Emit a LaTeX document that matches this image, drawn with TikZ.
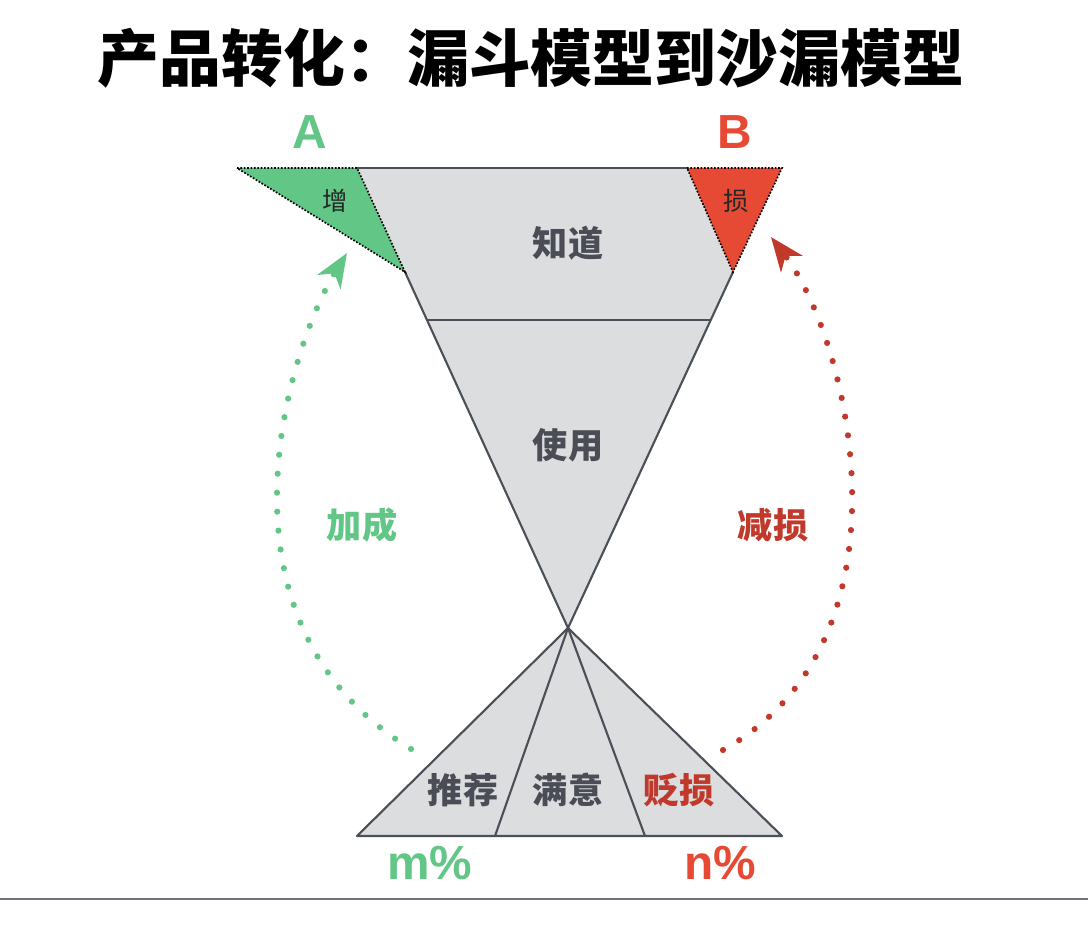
\documentclass[tikz,border=0pt]{standalone}
\usepackage{fontspec}
\setmainfont{Noto Sans CJK SC}
\newfontfamily\titlefont{Noto Sans CJK SC Black}
\newfontfamily\latinfont{Liberation Sans}
\usetikzlibrary{positioning, arrows.meta}

\definecolor{gainGreen}{HTML}{62C686}
\definecolor{lossRed}{HTML}{E64A35}
\definecolor{darkRed}{HTML}{C0392B}
\definecolor{funnelGray}{HTML}{DCDDDF}
\definecolor{edgeGray}{HTML}{4B4F58}
\definecolor{textGray}{HTML}{4A4D55}

\begin{document}
\begin{tikzpicture}[
    x=0.025cm, y=-0.025cm,
    edge/.style={draw=edgeGray, line width=1.5pt, line join=round},
    dotborder/.style={draw=black, line width=1.2pt, dash pattern=on 1.2pt off 1.2pt},
    stage/.style={font=\fontsize{25}{25}\selectfont\bfseries, text=textGray, inner sep=0pt},
    small/.style={font=\fontsize{18}{18}\selectfont, text=black!85, inner sep=0pt},
    letter/.style={font=\latinfont\fontsize{34}{34}\selectfont\bfseries, inner sep=0pt},
    flow/.style={line width=4.4pt, line cap=round, dash pattern=on 0pt off 13.5pt,
        -{Stealth[length=24pt, width=19pt, inset=7pt]}}
]
    \useasboundingbox (0,0) rectangle (1088,932);

    % corner points
    \coordinate (ta) at (237,168);
    \coordinate (fl) at (357,168);
    \coordinate (bl) at (687,168);
    \coordinate (fr) at (782,168);
    \coordinate (gk) at (405,272);
    \coordinate (rk) at (733,272);
    \coordinate (ml) at (427,320);
    \coordinate (mr) at (711,320);
    \coordinate (apex) at (568,628);
    \coordinate (hl) at (357,836);
    \coordinate (hr) at (782,836);
    \coordinate (h1) at (495,836);
    \coordinate (h2) at (645,836);

    \node[font=\titlefont\fontsize{44}{44}\selectfont, inner sep=0pt] (title) at (531,58) {产品转化：漏斗模型到沙漏模型};

    % funnel
    \fill[funnelGray] (fl) -- (bl) -- (rk) -- (apex) -- cycle;
    \fill[gainGreen] (ta) -- (fl) -- (gk) -- cycle;
    \fill[lossRed] (bl) -- (fr) -- (rk) -- cycle;
    \draw[edge] (fl) -- (bl);
    \draw[edge] (gk) -- (apex) -- (rk);
    \draw[edge] (ml) -- (mr);
    \draw[dotborder] (ta) -- (fl) -- (gk) -- cycle;
    \draw[dotborder] (bl) -- (fr) -- (rk) -- cycle;

    % sand glass bottom
    \filldraw[edge, fill=funnelGray] (apex) -- (hr) -- (hl) -- cycle;
    \draw[edge] (apex) -- (h1);
    \draw[edge] (apex) -- (h2);

    \node[stage] (know) at (568,243) {知道};
    \node[stage] (use) at (568,445) {使用};
    \node[stage] (recommend) at (463,790) {推荐};
    \node[stage] (satisfied) at (568,790) {满意};
    \node[stage, text=darkRed] (detract) at (679,790) {贬损};
    \node[small] (gain) at (335,201) {增};
    \node[small] (loss) at (736,201) {损};

    \node[letter, text=gainGreen] (A) at (310,132) {A};
    \node[letter, text=lossRed] (B) at (735,132) {B};
    \node[letter, text=gainGreen] (m) at (430,863) {m\%};
    \node[letter, text=lossRed] (n) at (720,863) {n\%};

    \node[stage, text=gainGreen] (boost) at (362,525) {加成};
    \node[stage, text=darkRed] (reduce) at (773,525) {减损};

    % dotted arcs
    \coordinate (gs) at (411,749);
    \coordinate (ge) at (347,253);
    \coordinate (rs) at (723,750);
    \coordinate (re) at (771,237);
    \draw[flow, gainGreen] (gs) .. controls (200,620) and (290,345) .. (ge);
    \draw[flow, darkRed] (rs) .. controls (920,640) and (850,340) .. (re);

    \draw[draw=edgeGray!80, line width=1.4pt] (0,899) -- (1088,899);
\end{tikzpicture}
\end{document}
